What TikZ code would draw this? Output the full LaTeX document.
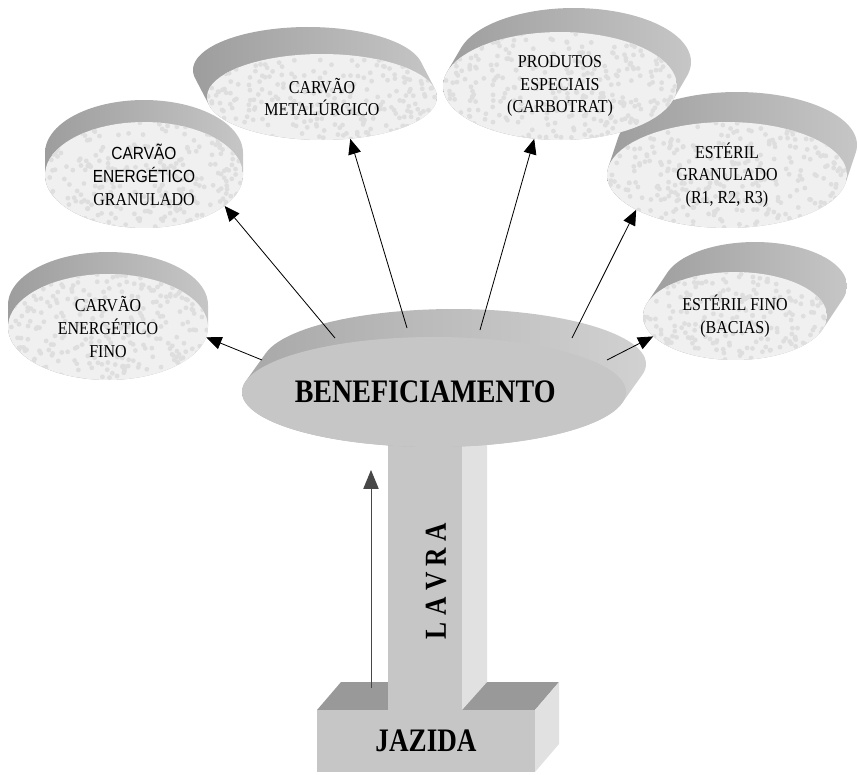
\documentclass[tikz,border=0pt]{standalone}
\usepackage{fontspec}
\setmainfont{Liberation Serif}[FakeStretch=0.88]
\setsansfont{Liberation Sans}[FakeStretch=0.88]
\usetikzlibrary{arrows.meta, shapes.geometric}
\definecolor{cFace}{HTML}{F0F0F0}
\definecolor{cGrain}{HTML}{DEDEDE}
\definecolor{cRimDark}{HTML}{8C8C8C}
\definecolor{cRimLight}{HTML}{C6C6C6}
\definecolor{cBody}{HTML}{C6C6C6}
\definecolor{cBodyDark}{HTML}{A8A8A8}
\definecolor{cSide}{HTML}{E1E1E1}
\definecolor{cTop}{HTML}{999999}

% rim of a disc: the front ellipse swept by (dx,dy)
\newcommand{\discrim}[7]{% style, cx, cy, rx, ry, dx, dy
  \pgfmathsetmacro\tA{atan2((#7)/(#5),(#6)/(#4))+90}
  \pgfmathsetmacro\tB{\tA+180}
  \pgfmathsetmacro\tC{\tA+360}
  \shade[#1] plot[domain=\tA:\tB, samples=60] ({#2+#4*cos(\x)},{#3+#5*sin(\x)})
    -- plot[domain=\tB:\tC, samples=60] ({#2+#6+#4*cos(\x)},{#3+#7+#5*sin(\x)}) -- cycle;
}
\newcommand{\disc}[8]{% name, cx, cy, rx, ry, dx, dy, text
  \discrim{rim}{#2}{#3}{#4}{#5}{#6}{#7}
  \begin{scope}
    \clip plot[domain=0:360, samples=72] ({#2+#4*cos(\x)},{#3+#5*sin(\x)}) -- cycle;
    \fill[cFace] (#2-#4,#3-#5) rectangle (#2+#4,#3+#5);
    \pgfmathtruncatemacro\ngrain{#4*#5/18}
    \foreach \k in {1,...,\ngrain}
      \fill[cGrain] ({#2+#4*rand},{#3+#5*rand}) circle[radius=2.4];
  \end{scope}
  \node[discface, minimum width=#4*0.06cm, minimum height=#5*0.06cm] (#1) at (#2,#3) {#8};
}

\begin{document}
\begin{tikzpicture}[
  x=0.03cm, y=-0.03cm,
  rim/.style={left color=cRimDark!85, right color=cRimLight},
  benrim/.style={left color=cBodyDark, middle color=cBodyDark!95!black, right color=cRimLight!80!white},
  discface/.style={ellipse, inner sep=0pt, align=center,
                   font=\fontsize{15.5}{19.5}\selectfont},
  benface/.style={ellipse, fill=cBody, inner sep=0pt,
                  font=\fontsize{28}{30}\selectfont\bfseries},
  arr/.style={-{Triangle[length=13pt, width=11pt]}, line width=0.7pt},
  uparr/.style={-{Triangle[length=16pt, width=13pt]}, line width=0.8pt, color=black!72},
]
\useasboundingbox (0,0) rectangle (858,775);
\pgfmathsetseed{11}

% product discs
\disc{estfino}{735}{316}{92}{44}{20}{-30}{ESTÉRIL FINO\\(BACIAS)}
\disc{estgran}{727}{175}{120}{53}{10}{-30}{ESTÉRIL\\GRANULADO\\(R1, R2, R3)}
\disc{produtos}{560}{86}{117}{54}{14}{-24}{PRODUTOS\\ESPECIAIS\\(CARBOTRAT)}
\disc{metal}{322}{97}{115}{43}{-14}{-27}{CARVÃO\\METALÚRGICO}
\disc{granulado}{144}{175}{99}{53}{0}{-22}{{\sffamily\fontsize{15}{19.5}\selectfont CARVÃO}\\{\sffamily\fontsize{15}{19.5}\selectfont ENERGÉTICO}\\GRANULADO}
\disc{fino}{108}{327}{100}{53}{0}{-22}{CARVÃO\\ENERGÉTICO\\FINO}

% jazida and lavra
\fill[cTop] (317,710) -- (341,682) -- (559,682) -- (535,710) -- cycle;
\fill[cSide] (462,400) -- (487,400) -- (487,682) -- (462,710) -- cycle;
\fill[cBody] (388,400) rectangle (462,710);
\fill[cSide] (535,710) -- (559,682) -- (559,744) -- (535,772) -- cycle;
\node[rectangle, fill=cBody, minimum width=218*0.03cm, minimum height=62*0.03cm,
      font=\fontsize{28}{30}\selectfont\bfseries] (jazida) at (426,741)
  {\scalebox{0.94}[1]{JAZIDA}};
\node[rotate=90, font=\fontsize{26}{28}\selectfont\bfseries] (lavra) at (436,581)
  {\scalebox{0.95}[1]{L A V R A}};

% beneficiamento
\discrim{benrim}{434}{392}{192}{55}{20}{-28}
\node[benface, minimum width=192*0.06cm, minimum height=55*0.06cm] (benef) at (434,392)
  {\kern-15pt\scalebox{0.97}[1]{BENEFICIAMENTO}};

\coordinate (b1) at (262,360);
\coordinate (b2) at (335,338);
\coordinate (b3) at (407,328);
\coordinate (b4) at (480,330);
\coordinate (b5) at (572,338);
\coordinate (b6) at (607,360);
\coordinate (up0) at (371,688);
\coordinate (up1) at (371,470);

\draw[arr] (b1) -- (fino.-6);
\draw[arr] (b2) -- (granulado.-21);
\draw[arr] (b3) -- (metal.-56);
\draw[arr] (b4) -- (produtos.-116);
\draw[arr] (b5) -- (estgran.-159);
\draw[arr] (b6) -- (estfino.-166);
\draw[uparr] (up0) -- (up1);

\end{tikzpicture}
\end{document}
